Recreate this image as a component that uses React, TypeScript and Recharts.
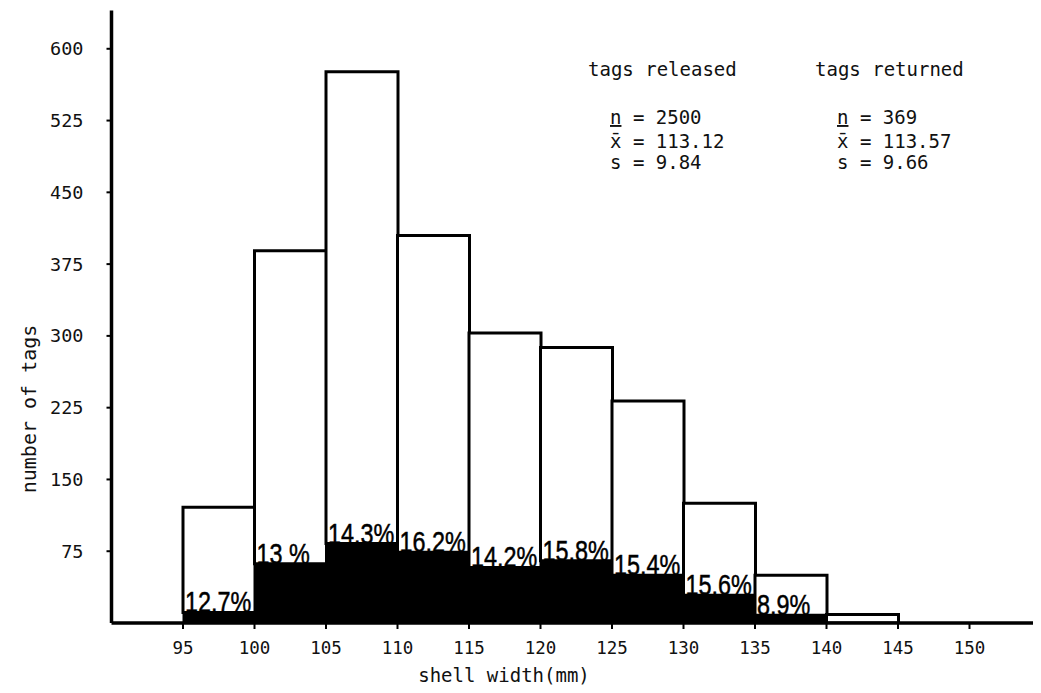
import React from 'react';
import { BarChart, Bar, XAxis, YAxis, LabelList } from 'recharts';

// ---- data ----
const binStarts = [95, 100, 105, 110, 115, 120, 125, 130, 135, 140];
const binWidth = 5;
const released = [121, 389, 576, 405, 303, 288, 232, 125, 50, 9];
const returned = [11, 62, 83, 74, 58, 65, 50, 29, 8, 0];
const pctLabels = ['12.7%', '13 %', '14.3%', '16.2%', '14.2%', '15.8%', '15.4%', '15.6%', '8.9%', ''];
const xTicks = [95, 100, 105, 110, 115, 120, 125, 130, 135, 140, 145, 150];
const yTicks = [75, 150, 225, 300, 375, 450, 525, 600];

const releasedStats = { n: '2500', mean: '113.12', sd: '9.84' };
const returnedStats = { n: '369', mean: '113.57', sd: '9.66' };

const data = binStarts.map((s, i) => ({
  mid: s + binWidth / 2,
  returned: returned[i],
  rest: released[i] - returned[i],
  pct: pctLabels[i],
}));

const MONO = '"DejaVu Sans Mono", "Liberation Mono", monospace';

const renderPct = (props: any) => {
  const x = Number(props.x);
  const y = Number(props.y);
  const h = Number(props.height);
  const v = props.value;
  if (!v) return null;
  return (
    <text
      transform={`translate(${x + 2},${y + h}) scale(0.78,1)`}
      fontSize={30}
      fontFamily='"Liberation Sans", Arial, sans-serif'
      fill="#000"
      stroke="#000"
      strokeWidth={0.5}
    >
      {v}
    </text>
  );
};

const StatBlock = ({ x, title, s }: { x: number; title: string; s: { n: string; mean: string; sd: string } }) => (
  <g fontFamily={MONO} fontSize={19} fill="#111">
    <text x={x} y={68}>{title}</text>
    <text x={x + 22} y={116}>
      <tspan textDecoration="underline">n</tspan>
      {` = ${s.n}`}
    </text>
    <text x={x + 22} y={140}>{`x\u0304 = ${s.mean}`}</text>
    <text x={x + 22} y={161}>{`s = ${s.sd}`}</text>
  </g>
);

export default function App() {
  return (
    <div style={{ width: 1033, height: 685, background: '#fff' }}>
      <BarChart
        width={1033}
        height={685}
        data={data}
        margin={{ top: 2.5, right: 0, bottom: 0, left: 0 }}
        barCategoryGap={0}
        barGap={0}
      >
        <XAxis
          dataKey="mid"
          type="number"
          domain={[90, 155]}
          ticks={xTicks}
          interval={0}
          allowDataOverflow
          height={70}
          axisLine={{ stroke: '#000', strokeWidth: 3.5 }}
          tickLine={{ stroke: '#000', strokeWidth: 2 }}
          tickSize={6}
          tickMargin={13}
          tick={{ fill: '#111', fontSize: 17.5, fontFamily: MONO }}
        />
        <YAxis
          type="number"
          domain={[0, 640]}
          ticks={yTicks}
          interval={0}
          allowDataOverflow
          width={103.5}
          axisLine={{ stroke: '#000', strokeWidth: 3.5 }}
          tickLine={{ stroke: '#000', strokeWidth: 2 }}
          tickSize={5}
          tickMargin={23}
          tick={{ fill: '#111', fontSize: 18.5, fontFamily: MONO }}
        />
        <Bar dataKey="returned" stackId="a" fill="#000" stroke="#000" strokeWidth={1} isAnimationActive={false} />
        <Bar dataKey="rest" stackId="a" fill="#fff" stroke="#000" strokeWidth={3} isAnimationActive={false}>
          <LabelList dataKey="pct" content={renderPct} />
        </Bar>
        <StatBlock x={580} title="tags released" s={releasedStats} />
        <StatBlock x={807} title="tags returned" s={returnedStats} />
        <text
          x={21}
          y={401}
          transform="rotate(-90, 21, 401)"
          textAnchor="middle"
          dominantBaseline="central"
          fontFamily={MONO}
          fontSize={20}
          fill="#111"
        >
          number of tags
        </text>
        <text x={496} y={674} textAnchor="middle" fontFamily={MONO} fontSize={19} fill="#111">
          shell width(mm)
        </text>
      </BarChart>
    </div>
  );
}
